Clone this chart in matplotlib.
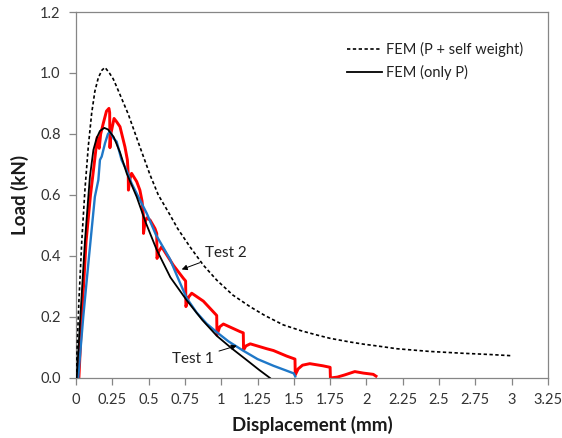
import numpy as np
import matplotlib
matplotlib.use("Agg")
import matplotlib.pyplot as plt
from matplotlib.ticker import FormatStrFormatter, FuncFormatter

plt.rcParams['font.family'] = ['Lato', 'DejaVu Sans']

# FEM (P + self weight) - dashed
fem_sw_x = [0, 0.02, 0.04, 0.062, 0.085, 0.108, 0.13, 0.154, 0.18, 0.2, 0.23, 0.257,
            0.28, 0.32, 0.36, 0.44, 0.51, 0.567, 0.647, 0.70, 0.785, 0.877, 0.969,
            1.08, 1.198, 1.3, 1.428, 1.55, 1.658, 1.75, 1.887, 1.979, 2.09, 2.208,
            2.438, 2.667, 2.85, 3.0]
fem_sw_y = [0, 0.25, 0.45, 0.62, 0.76, 0.868, 0.94, 0.985, 1.01, 1.018, 1.0, 0.98,
            0.955, 0.91, 0.865, 0.758, 0.666, 0.6, 0.535, 0.49, 0.43, 0.37, 0.321,
            0.272, 0.234, 0.205, 0.174, 0.155, 0.141, 0.13, 0.118, 0.111, 0.104, 0.096,
            0.087, 0.081, 0.077, 0.073]

# FEM (only P) - solid black
fem_p_x = [0.005, 0.03, 0.062, 0.085, 0.096, 0.12, 0.142, 0.165, 0.195, 0.22, 0.26,
           0.303, 0.35, 0.418, 0.48, 0.556, 0.65, 0.762, 0.87, 0.97, 1.07, 1.175,
           1.26, 1.336]
fem_p_y = [0, 0.2, 0.45, 0.594, 0.66, 0.748, 0.786, 0.81, 0.82, 0.815, 0.79,
           0.74, 0.67, 0.594, 0.51, 0.42, 0.33, 0.255, 0.19, 0.138, 0.098, 0.059,
           0.027, 0.0]

# Test 1 - blue
test1_x = [0.015, 0.05, 0.09, 0.13, 0.154, 0.165, 0.177, 0.2, 0.22, 0.234, 0.26, 0.28,
           0.314, 0.349, 0.383, 0.44, 0.487, 0.55, 0.647, 0.70, 0.762, 0.83, 0.9,
           0.97, 1.05, 1.15, 1.25, 1.36, 1.45, 1.5, 1.51]
test1_y = [0, 0.2, 0.4, 0.594, 0.649, 0.715, 0.726, 0.77, 0.80, 0.808, 0.785, 0.775,
           0.715, 0.68, 0.638, 0.584, 0.54, 0.47, 0.39, 0.33, 0.262, 0.215, 0.178,
           0.15, 0.12, 0.09, 0.062, 0.04, 0.024, 0.015, 0.005]

# Test 2 - red
test2_x = [0.02, 0.04, 0.07, 0.1, 0.13, 0.147, 0.155, 0.16, 0.17, 0.188, 0.21, 0.227,
           0.232, 0.234, 0.24, 0.262, 0.28, 0.303, 0.337, 0.354, 0.36, 0.361, 0.37,
           0.383, 0.418, 0.44, 0.455, 0.464, 0.465, 0.475, 0.487, 0.51, 0.544, 0.556,
           0.558, 0.57, 0.59, 0.67, 0.739, 0.755, 0.757, 0.775, 0.797, 0.877, 0.969,
           0.971, 0.99, 1.015, 1.13, 1.152, 1.154, 1.17, 1.2, 1.313, 1.36, 1.45,
           1.508, 1.51, 1.53, 1.56, 1.61, 1.70, 1.75, 1.752, 1.8, 1.85, 1.92, 1.98,
           2.047, 2.066]
test2_y = [0, 0.2, 0.45, 0.6, 0.72, 0.79, 0.76, 0.753, 0.8, 0.835, 0.875, 0.884,
           0.87, 0.755, 0.80, 0.851, 0.84, 0.824, 0.758, 0.715, 0.666, 0.616, 0.65,
           0.671, 0.644, 0.616, 0.58, 0.534, 0.474, 0.51, 0.525, 0.518, 0.49, 0.474,
           0.392, 0.415, 0.43, 0.37, 0.327, 0.318, 0.234, 0.265, 0.278, 0.252, 0.205,
           0.141, 0.168, 0.177, 0.152, 0.148, 0.092, 0.105, 0.112, 0.096, 0.09, 0.072,
           0.062, 0.01, 0.03, 0.042, 0.047, 0.04, 0.035, 0.0, 0.003, 0.01, 0.021, 0.016,
           0.012, 0.006]

x_ticks = [0, 0.25, 0.5, 0.75, 1, 1.25, 1.5, 1.75, 2, 2.25, 2.5, 2.75, 3, 3.25]
y_ticks = [0, 0.2, 0.4, 0.6, 0.8, 1.0, 1.2]

fig = plt.figure(figsize=(5.62, 4.38), dpi=100)
ax = fig.add_axes([0.1352, 0.137, 0.8398, 0.8356])

ax.plot(fem_sw_x, fem_sw_y, color='black', linestyle=(0, (2.0, 1.5)), linewidth=1.2,
        label='FEM (P + self weight)', zorder=3)
ax.plot(fem_p_x, fem_p_y, color='black', linewidth=1.3, label='FEM (only P)', zorder=4)
ax.plot(test1_x, test1_y, color='#1f78c8', linewidth=1.7, zorder=2)
ax.plot(test2_x, test2_y, color='#ff0000', linewidth=2.1, zorder=1)

ax.annotate('Test 2', xy=(0.728, 0.356), xytext=(0.89, 0.41), fontsize=11,
            color='#222222', va='center', ha='left',
            arrowprops=dict(arrowstyle='-|>', color='black', lw=0.7,
                            mutation_scale=8, shrinkA=2, shrinkB=0))
ax.annotate('Test 1', xy=(1.107, 0.106), xytext=(0.66, 0.062), fontsize=11,
            color='#222222', va='center', ha='left',
            arrowprops=dict(arrowstyle='-|>', color='black', lw=0.7,
                            mutation_scale=8, shrinkA=2, shrinkB=0))

ax.set_xlim(0, 3.25)
ax.set_ylim(0, 1.2)
ax.set_xticks(x_ticks)
ax.set_yticks(y_ticks)
ax.xaxis.set_major_formatter(FuncFormatter(lambda v, p: '%g' % v))
ax.yaxis.set_major_formatter(FormatStrFormatter('%.1f'))

for s in ax.spines.values():
    s.set_color('#868686')
    s.set_linewidth(0.9)
ax.tick_params(direction='out', length=5, width=0.9, color='#868686',
               labelsize=10.5, labelcolor='#333333', pad=6)

ax.set_xlabel('Displacement (mm)', fontsize=13.5, fontweight='bold', color='#1a1a1a', labelpad=6)
ax.set_ylabel('Load (kN)', fontsize=13.5, fontweight='bold', color='#1a1a1a', labelpad=8)

leg = ax.legend(loc='upper right', bbox_to_anchor=(0.975, 0.955), frameon=False,
                fontsize=10.5, handlelength=2.4, handletextpad=0.3, labelspacing=0.6)
for t in leg.get_texts():
    t.set_color('#222222')

fig.savefig('out.png', dpi=100)
